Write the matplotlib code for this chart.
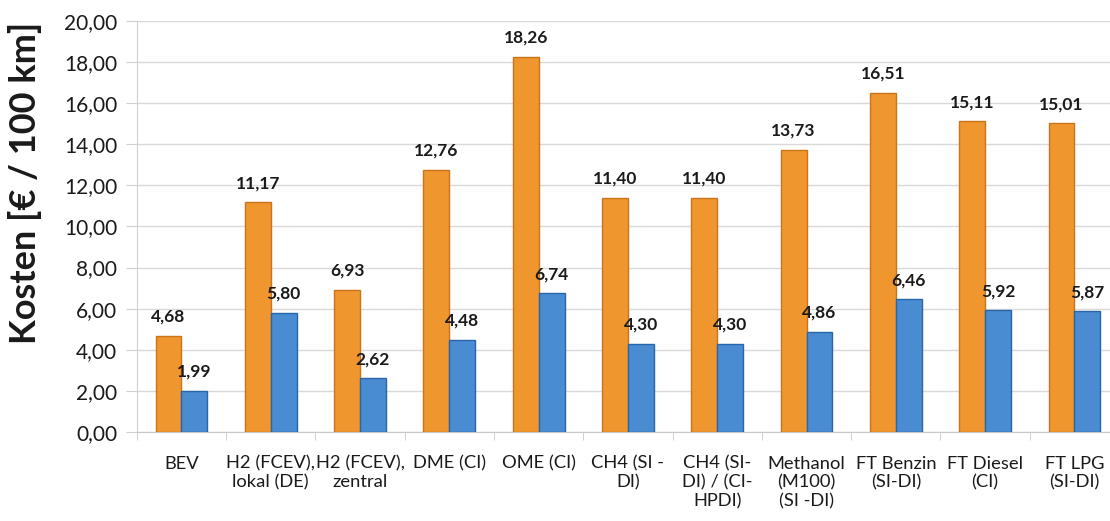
import numpy as np
import matplotlib
matplotlib.use("Agg")
import matplotlib.pyplot as plt
from matplotlib.ticker import FuncFormatter, FixedLocator

categories = ["BEV", "H2 (FCEV),\nlokal (DE)", "H2 (FCEV),\nzentral", "DME (CI)", "OME (CI)",
              "CH4 (SI -\nDI)", "CH4 (SI-\nDI) / (CI-\nHPDI)", "Methanol\n(M100)\n(SI -DI)",
              "FT Benzin\n(SI-DI)", "FT Diesel\n(CI)", "FT LPG\n(SI-DI)"]
orange_vals = [4.68, 11.17, 6.93, 12.76, 18.26, 11.40, 11.40, 13.73, 16.51, 15.11, 15.01]
blue_vals = [1.99, 5.80, 2.62, 4.48, 6.74, 4.30, 4.30, 4.86, 6.46, 5.92, 5.87]

plt.rcParams["font.family"] = ["Lato", "DejaVu Sans"]

fig = plt.figure(figsize=(11.1, 5.21), dpi=100)
# the original chart is cut off at the right edge
ax = fig.add_axes([0.1232, 0.1708, 0.885, 0.7894])

x = np.arange(len(categories))
w = 0.29

b1 = ax.bar(x - w / 2, orange_vals, w, color="#F0962E", edgecolor="#C8741A", linewidth=1.0, zorder=3)
b2 = ax.bar(x + w / 2, blue_vals, w, color="#4A8CD2", edgecolor="#2766A8", linewidth=1.0, zorder=3)

fmt = lambda v: f"{v:.2f}".replace(".", ",")
for bars, vals in ((b1, orange_vals), (b2, blue_vals)):
    for r, v in zip(bars, vals):
        ax.annotate(fmt(v), (r.get_x() + r.get_width() / 2, v), xytext=(0, 8),
                    textcoords="offset points", ha="center", va="bottom",
                    fontsize=12.5, fontweight="bold", color="#1a1a1a", zorder=4)

ax.set_ylim(0, 20)
ax.set_xlim(-0.5, len(categories) - 0.5)
ax.set_yticks(np.arange(0, 21, 2))
ax.yaxis.set_major_formatter(FuncFormatter(lambda v, p: fmt(v)))
ax.grid(axis="y", color="#d9d9d9", linewidth=1.0, zorder=0)

ax.set_xticks(x)
ax.set_xticklabels(categories, fontsize=13.2, color="#1a1a1a", linespacing=1.2)
ax.xaxis.set_minor_locator(FixedLocator(np.arange(-0.5, len(categories), 1.0)))
ax.tick_params(axis="x", which="major", length=0, pad=17)
ax.tick_params(axis="x", which="minor", length=6, color="#c8c8c8")
ax.tick_params(axis="y", length=8, color="#d0d0d0", labelsize=15, labelcolor="#1a1a1a", pad=6)

for s in ("top", "right"):
    ax.spines[s].set_visible(False)
ax.spines["left"].set_color("#d0d0d0")
ax.spines["bottom"].set_color("#c8c8c8")

ax.set_ylabel("Kosten [€ / 100 km]", fontsize=26, fontweight="bold", color="#1a1a1a")
ax.yaxis.set_label_coords(-0.0964, 0.605)

fig.savefig("out.png", dpi=100)
